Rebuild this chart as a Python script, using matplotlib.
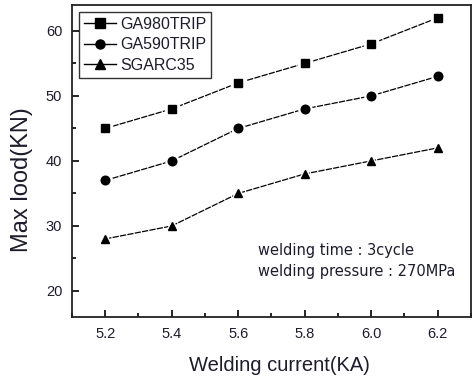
import matplotlib
matplotlib.use("Agg")
import matplotlib.pyplot as plt
from matplotlib.ticker import MultipleLocator

plt.rcParams["font.family"] = ["Liberation Sans", "DejaVu Sans"]

current = [5.2, 5.4, 5.6, 5.8, 6.0, 6.2]
ga980 = [45, 48, 52, 55, 58, 62]
ga590 = [37, 40, 45, 48, 50, 53]
sgarc = [28, 30, 35, 38, 40, 42]
series = [("GA980TRIP", ga980, "s"), ("GA590TRIP", ga590, "o"), ("SGARC35", sgarc, "^")]

TXT = "#1c1c2c"

fig = plt.figure(figsize=(4.77, 3.76), dpi=100)
ax = fig.add_axes([0.151, 0.157, 0.836, 0.830])

handles = []
for name, vals, mk in series:
    ax.plot(current, vals, color="black", lw=0.9, ls=(0, (5, 1)), zorder=2)
    ax.plot(current, vals, ls="none", marker=mk, ms=9.5, color="white", zorder=3)
    ax.plot(current, vals, ls="none", marker=mk, ms=6.2, color="black", zorder=4)
    h, = ax.plot([], [], color="black", lw=1.0, marker=mk, ms=6.5, label=name)
    handles.append(h)

ax.set_xlim(5.1, 6.3)
ax.set_ylim(16, 64)
ax.xaxis.set_major_locator(MultipleLocator(0.2))
ax.xaxis.set_minor_locator(MultipleLocator(0.1))
ax.yaxis.set_major_locator(MultipleLocator(10))
ax.yaxis.set_minor_locator(MultipleLocator(5))
ax.tick_params(which="both", direction="in", top=False, right=False,
               labelsize=10.5, labelcolor=TXT, width=1.2)
ax.tick_params(which="major", length=5, pad=7)
ax.tick_params(which="minor", length=3)
ax.set_xticklabels([f"{v:.1f}" for v in ax.get_xticks()])
for s in ax.spines.values():
    s.set_linewidth(1.3)
    s.set_color("#222222")

ax.set_xlabel("Welding current(KA)", fontsize=14.5, color=TXT)
ax.xaxis.set_label_coords(0.52, -0.125)
ax.set_ylabel("Max lood(KN)", fontsize=17, color=TXT)
ax.yaxis.set_label_coords(-0.098, 0.44)

leg = ax.legend(handles=handles, loc="upper left", fontsize=11.5, frameon=True,
                fancybox=False, edgecolor="black", borderaxespad=0.45,
                handlelength=2.0, handletextpad=0.25, labelspacing=0.35,
                borderpad=0.3)
leg.get_frame().set_linewidth(1.0)
for t in leg.get_texts():
    t.set_color(TXT)

ax.text(0.467, 0.2, "welding time : 3cycle", transform=ax.transAxes,
        fontsize=10.5, color=TXT, family="DejaVu Sans")
ax.text(0.467, 0.13, "welding pressure : 270MPa", transform=ax.transAxes,
        fontsize=10.5, color=TXT, family="DejaVu Sans")

fig.savefig("out.png", dpi=100)
